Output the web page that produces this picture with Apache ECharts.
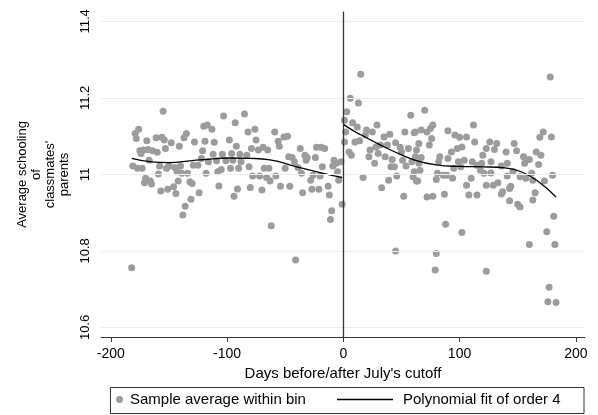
<!DOCTYPE html>
<html>
<head>
<meta charset="utf-8">
<script src="https://cdn.jsdelivr.net/npm/echarts@6/dist/echarts.min.js"></script>
<style>
  html, body { margin: 0; padding: 0; background: #fff; }
  #chart { width: 598px; height: 415px; }
</style>
</head>
<body>
<div id="chart"></div>
<script>
// bin averages (day relative to cutoff, mean schooling)
const binDays = [
  -182, -155, -176, -179, -178, -169, -161, -156, -154, -148, -141, -135, -137, -128,
  -175, -172, -168, -164, -160, -174, -153, -181, -177, -173, -167, -158, -150, -152,
  -145, -140, -143, -139, -134, -129, -125, -159, -171, -166, -165, -157, -151, -146,
  -142, -144, -132, -130, -124, -131, -136, -138, -170,
  -103, -85, -93, -120, -117, -113, -82, -76, -119, -111, -98, -92, -75, -79, -73, -69,
  -65, -121, -112, -104, -96, -89, -83, -122, -116, -109, -101, -95, -88, -105, -97, -90,
  -81, -68, -64, -118, -108, -78, -72, -66, -63, -107, -91, -94, -80, -70, -62,
  -41, -59, -51, -48, -56, -55, -37, -23, -19, -16, -47, -44, -33, -31, -24, -42, -32,
  -8, -6, -50, -39, -18, -9, -58, -36, -26, -20, -5, -2, -28, -4, -54, -46, -35, -27,
  -21, -13, -12, -1, -10, -11,
  15, 6, 13, 3, 1, 2, 1, 8, 12, 29, 58, 20, 25, 10, 14, 19, 35, 40, 53, 61, 5, 7, 23, 28,
  32, 38, 45, 49, 22, 27, 30, 36, 42, 50, 56, 41, 44, 54, 51, 59, 62, 17, 39, 33, 46, 52,
  60, 61, 45, 63,
  70, 62, 65, 67, 72, 75, 77, 76, 74, 90, 96, 100, 106, 112, 113, 63, 67, 65, 66, 64, 83,
  82, 90, 93, 98, 102, 99, 104, 111, 115, 119, 121, 95, 101, 118, 81, 86, 89, 94, 80, 110,
  72, 77, 87, 106, 108, 115, 123, 88, 102, 80, 79, 123, 126, 123, 120,
  178, 172, 169, 179, 132, 130, 140, 147, 149, 166, 170, 168, 127, 136, 141, 155, 160, 156,
  127, 141, 146, 152, 157, 162, 163, 173, 180, 129, 133, 144, 143, 137, 136, 143, 150,
  152, 165, 163, 181, 175, 182, 160, 177, 176, 183
];
const binMeans = [
  10.756, 11.165, 11.118, 11.107, 11.094, 11.088, 11.096, 11.097, 11.090, 11.083, 11.074, 11.107, 11.096, 11.085,
  11.062, 11.064, 11.065, 11.062, 11.058, 11.055, 11.068, 11.022, 11.016, 11.016, 11.037, 11.022, 11.022, 11.016,
  11.018, 11.022, 11.007, 11.003, 11.003, 11.024, 11.024, 11.001, 10.978, 10.983, 10.975, 10.957, 10.961, 10.968,
  10.983, 10.950, 10.981, 10.976, 10.952, 10.935, 10.917, 10.894, 10.990,
  11.153, 11.158, 11.135, 11.126, 11.129, 11.118, 11.111, 11.118, 11.087, 11.084, 11.090, 11.074, 11.090, 11.068, 11.064, 11.071,
  11.064, 11.062, 11.053, 11.053, 11.055, 11.053, 11.050, 11.042, 11.033, 11.036, 11.036, 11.037, 11.033, 11.013, 11.016, 11.016,
  11.020, 11.016, 11.016, 11.003, 11.007, 10.996, 10.996, 10.992, 10.983, 10.970, 10.962, 10.943, 10.966, 10.959, 10.866,
  10.776, 11.111, 11.098, 11.100, 11.087, 11.074, 11.068, 11.071, 11.071, 11.068, 11.046, 11.044, 11.050, 11.044, 11.044, 11.033, 11.037,
  11.037, 11.029, 11.016, 11.018, 11.020, 11.022, 10.996, 11.003, 10.998, 10.996, 11.007, 11.033, 10.985, 10.985, 10.969, 10.969, 10.952, 10.961,
  10.961, 10.969, 10.946, 10.922, 10.905, 10.882,
  11.262, 11.199, 11.187, 11.164, 11.142, 11.111, 11.085, 11.135, 11.124, 11.129, 11.155, 11.116, 11.111, 11.085, 11.088, 11.103, 11.098, 11.105, 11.111, 11.109, 11.059, 11.050, 11.064, 11.072,
  11.077, 11.077, 11.083, 11.071, 11.046, 11.029, 11.055, 11.046, 11.039, 11.059, 11.068, 11.020, 11.020, 11.022, 11.037, 11.033, 11.046, 10.992, 10.985, 10.965, 10.996, 10.943,
  10.994, 11.007, 10.800, 10.983,
  11.168, 11.111, 11.081, 11.116, 11.111, 11.120, 11.129, 11.094, 11.077, 11.114, 11.103, 11.097, 11.098, 11.129, 11.085, 11.064, 11.044, 11.029, 11.011, 10.983, 11.046,
  11.033, 11.042, 11.059, 11.068, 11.072, 11.033, 11.037, 11.033, 11.024, 11.029, 11.003, 11.016, 11.020, 11.011, 11.003, 10.998, 10.998, 10.990, 10.987, 10.990,
  10.941, 10.943, 10.948, 10.972, 10.946, 10.946, 10.972, 10.870, 10.848, 10.793, 10.750, 10.747, 11.085, 11.068, 11.050,
  11.255, 11.111, 11.097, 11.098, 11.081, 11.065, 11.059, 11.081, 11.062, 11.059, 11.050, 11.026, 11.033, 11.022, 11.029, 11.046, 11.039, 11.029,
  11.004, 10.996, 11.007, 10.994, 10.990, 11.003, 10.985, 10.983, 10.998, 10.972, 10.978, 10.969, 10.963, 10.955, 10.949, 10.931, 10.922,
  10.915, 10.952, 10.933, 10.891, 10.850, 10.817, 10.817, 10.705, 10.667, 10.665
];

// order-4 fits on each side of the cutoff
const fitLeftDays = [-182, -165, -150, -130, -115, -100, -80, -63, -40, -20, -1];
const fitLeftValues = [11.042, 11.033, 11.031, 11.036, 11.040, 11.043, 11.042, 11.038, 11.020, 11.005, 10.992];
const fitRightDays = [0, 10, 20, 30, 45, 62, 80, 100, 120, 139, 153, 168, 183];
const fitRightValues = [11.131, 11.112, 11.096, 11.080, 11.058, 11.037, 11.025, 11.021, 11.020, 11.017, 11.007, 10.981, 10.941];

const xTicks = [-200, -100, 0, 100, 200];
const yTicks = [10.6, 10.8, 11, 11.2, 11.4];

const font = '"Liberation Sans", Arial, sans-serif';

var dom = document.getElementById("chart");
var myChart = echarts.init(dom);

var scatterData = binDays.map((d, i) => [d, binMeans[i]]);
var leftData = fitLeftDays.map((d, i) => [d, fitLeftValues[i]]);
var rightData = fitRightDays.map((d, i) => [d, fitRightValues[i]]);

var option = {
    animation: false,
    backgroundColor: '#fff',
    textStyle: { fontFamily: font },
    grid: { left: 101, right: 13, top: 12, bottom: 78 },
    xAxis: {
        type: 'value',
        min: -208.4,
        max: 207.9,
        name: "Days before/after July's cutoff",
        nameLocation: 'middle',
        nameGap: 26,
        nameTextStyle: { fontSize: 15, color: '#000', fontFamily: font },
        axisLine: { lineStyle: { color: '#333', width: 1 } },
        axisTick: { show: true, length: 5, customValues: xTicks, lineStyle: { color: '#333' } },
        axisLabel: { customValues: xTicks, fontSize: 14, color: '#000', margin: 10, fontFamily: font },
        splitLine: { show: false }
    },
    yAxis: {
        type: 'value',
        min: 10.575,
        max: 11.4247,
        name: "Average schooling\nof\nclassmates'\nparents",
        nameLocation: 'middle',
        nameGap: 29,
        nameTextStyle: { fontSize: 13, lineHeight: 14, color: '#000', fontFamily: font },
        axisLine: { show: true, lineStyle: { color: '#333', width: 1 } },
        axisTick: { show: true, length: 5, customValues: yTicks, lineStyle: { color: '#333' } },
        axisLabel: { customValues: yTicks, rotate: 90, fontSize: 13, color: '#000', margin: 9, fontFamily: font },
        splitLine: { show: false }
    },
    legend: [
        {
            data: ['Sample average within bin'],
            left: 116, top: 392, padding: 0,
            itemWidth: 7, itemHeight: 7, icon: 'circle',
            textStyle: { fontSize: 15, color: '#000', fontFamily: font, padding: [0, 0, 0, 2] }
        },
        {
            data: [{ name: 'Polynomial fit of order 4', icon: 'rect' }],
            left: 337, top: 392, padding: 0,
            itemWidth: 56, itemHeight: 1.3,
            itemStyle: { color: '#000', borderWidth: 0 },
            textStyle: { fontSize: 15, color: '#000', fontFamily: font, padding: [0, 0, 0, 5] }
        }
    ],
    graphic: [{
        type: 'rect',
        shape: { x: 110.5, y: 387.5, width: 473.5, height: 26 },
        style: { fill: 'none', stroke: '#333', lineWidth: 1 },
        silent: true
    }],
    series: [
        {
            // gridlines and the cutoff line
            type: 'scatter',
            data: [],
            z: 1,
            silent: true,
            markLine: {
                silent: true,
                symbol: 'none',
                label: { show: false },
                data: yTicks.map(v => ({ yAxis: v, lineStyle: { color: '#e6eff1', width: 1, type: 'solid' } }))
            }
        },
        {
            name: 'Sample average within bin',
            type: 'scatter',
            data: scatterData,
            symbolSize: 7,
            z: 2,
            itemStyle: { color: '#9c9c9c', opacity: 1 }
        },
        {
            name: 'Polynomial fit of order 4',
            type: 'line',
            data: leftData,
            smooth: true,
            symbol: 'none',
            z: 3,
            lineStyle: { color: '#000', width: 1.3 },
            itemStyle: { color: '#000' }
        },
        {
            name: 'Polynomial fit of order 4',
            type: 'line',
            data: rightData,
            smooth: true,
            symbol: 'none',
            z: 3,
            lineStyle: { color: '#000', width: 1.3 },
            itemStyle: { color: '#000' },
            markLine: {
                silent: true,
                symbol: 'none',
                label: { show: false },
                lineStyle: { color: '#333', width: 1.3, type: 'solid' },
                data: [{ xAxis: 0 }]
            }
        }
    ]
};

if (option && typeof option === 'object') {
    myChart.setOption(option);
}
window.addEventListener('resize', myChart.resize);
</script>
</body>
</html>
